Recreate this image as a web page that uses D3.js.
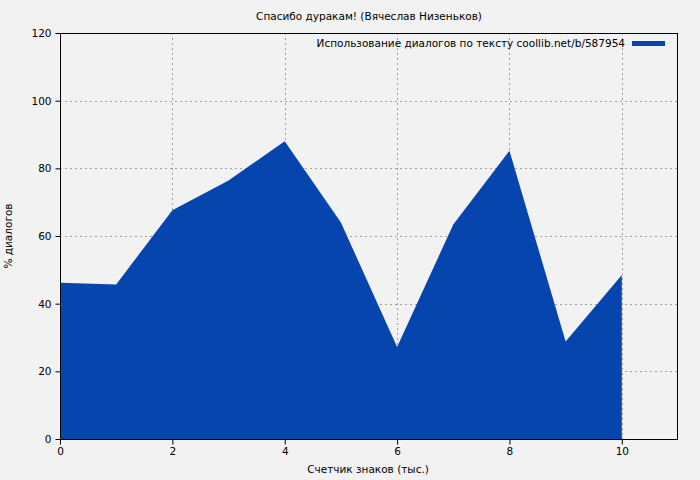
<!DOCTYPE html>
<html><head><meta charset="utf-8">
<script src="https://cdn.jsdelivr.net/npm/d3@7"></script>
<style>body{margin:0;background:#f2f2f2;}svg{display:block;font-family:"DejaVu Sans",sans-serif;}</style>
</head><body>
<script>
const xs = [0,1,2,3,4,5,6,7,8,9,10];
const values = [46.2,45.7,67.6,76.4,88.0,64.0,27.2,63.4,85.2,28.8,48.5];
const xTicks = [0,2,4,6,8,10];
const yTicks = [0,20,40,60,80,100,120];
const title = "Спасибо дуракам! (Вячеслав Низеньков)";
const legendLabel = "Использование диалогов по тексту coollib.net/b/587954";
const xLabel = "Счетчик знаков (тыс.)";
const yLabel = "% диалогов";

const W=700,H=480, L=60, R=678, T=33, B=439;
const color="#0645ad";
const FS=10.5;
const svg=d3.select("body").append("svg").attr("width",W).attr("height",H);
svg.append("rect").attr("width",W).attr("height",H).attr("fill","#f2f2f2");
const x=d3.scaleLinear().domain([0,11]).range([L,R]);
const y=d3.scaleLinear().domain([0,120]).range([B,T]);

// grid
const g=svg.append("g").attr("stroke","#a0a0a0").attr("stroke-dasharray","2,3").attr("stroke-width",1);
xTicks.filter(d=>d>0).forEach(d=>g.append("line").attr("x1",Math.round(x(d))+0.5).attr("x2",Math.round(x(d))+0.5).attr("y1",T).attr("y2",B));
yTicks.filter(d=>d>0&&d<120).forEach(d=>g.append("line").attr("y1",Math.round(y(d))+0.5).attr("y2",Math.round(y(d))+0.5).attr("x1",L).attr("x2",R));

// area
const data=xs.map((d,i)=>({x:d,v:values[i]}));
svg.append("path").datum(data).attr("fill",color)
  .attr("d",d3.area().x(d=>x(d.x)).y0(y(0)).y1(d=>y(d.v)));

// border
svg.append("rect").attr("x",L+0.5).attr("y",T+0.5).attr("width",R-L-1).attr("height",B-T).attr("fill","none").attr("stroke","#000").attr("stroke-width",1);

// axes
const xa=svg.append("g").attr("transform",`translate(0,${B+0.5})`)
  .call(d3.axisBottom(x).tickValues(xTicks).tickSize(5).tickPadding(3).tickFormat(d3.format("d")));
xa.select(".domain").remove();
xa.selectAll("text").attr("font-size",FS).attr("font-family","DejaVu Sans").attr("fill","#000");
const ya=svg.append("g").attr("transform",`translate(${L+0.5},0)`)
  .call(d3.axisLeft(y).tickValues(yTicks).tickSize(5).tickPadding(4).tickFormat(d3.format("d")));
ya.select(".domain").remove();
ya.selectAll("text").attr("font-size",FS).attr("font-family","DejaVu Sans").attr("fill","#000");

// texts
svg.append("text").attr("x",369).attr("y",20).attr("text-anchor","middle").attr("font-size",FS).text(title);
svg.append("text").attr("x",368).attr("y",473).attr("text-anchor","middle").attr("font-size",FS).text(xLabel);
svg.append("text").attr("transform","translate(12,236) rotate(-90)").attr("text-anchor","middle").attr("font-size",FS).text(yLabel);
svg.append("text").attr("x",625).attr("y",47).attr("text-anchor","end").attr("font-size",FS).text(legendLabel);
svg.append("line").attr("x1",632).attr("x2",665).attr("y1",43.5).attr("y2",43.5).attr("stroke",color).attr("stroke-width",5);
</script>
</body></html>
